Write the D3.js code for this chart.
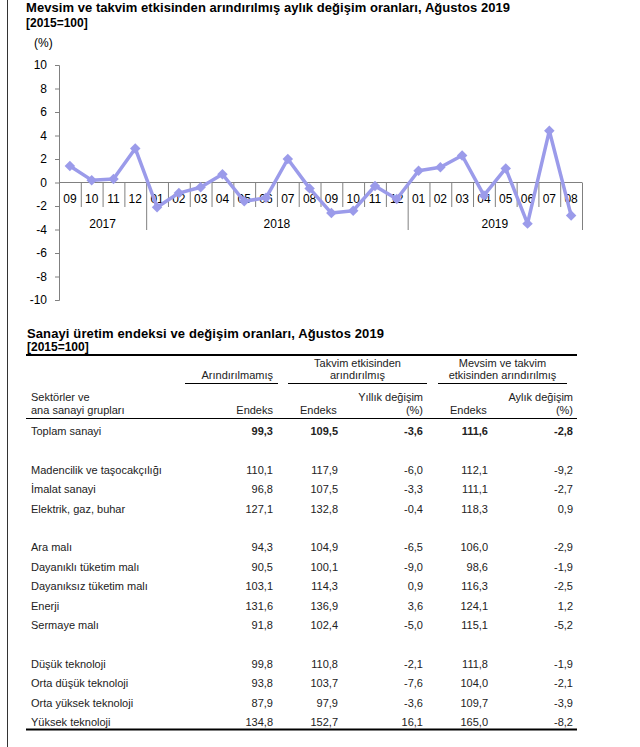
<!DOCTYPE html>
<html><head><meta charset="utf-8">
<script src="https://cdn.jsdelivr.net/npm/d3@7"></script>
<style>
html,body{margin:0;padding:0;background:#fff;}
svg{display:block;font-family:Arial,"Liberation Sans",sans-serif;}
</style></head>
<body><svg id="c" width="640" height="747"></svg>
<script>
// ---- chart data ----
const months = ["09","10","11","12","01","02","03","04","05","06","07","08","09","10","11","12","01","02","03","04","05","06","07","08"];
const years = ["2017","2017","2017","2017","2018","2018","2018","2018","2018","2018","2018","2018","2018","2018","2018","2018","2019","2019","2019","2019","2019","2019","2019","2019"];
const changes = [1.4,0.2,0.3,2.9,-2.1,-0.9,-0.4,0.7,-1.6,-1.3,2.0,-0.5,-2.6,-2.4,-0.3,-1.4,1.0,1.3,2.3,-1.1,1.2,-3.5,4.4,-2.8];
const yTicks = [10,8,6,4,2,0,-2,-4,-6,-8,-10];

// ---- table data ----
const rowLabels = ["Toplam sanayi", null, "Madencilik ve taşocakçılığı", "İmalat sanayi", "Elektrik, gaz, buhar", null,
  "Ara malı", "Dayanıklı tüketim malı", "Dayanıksız tüketim malı", "Enerji", "Sermaye malı", null,
  "Düşük teknoloji", "Orta düşük teknoloji", "Orta yüksek teknoloji", "Yüksek teknoloji"];
const rawIndex   = ["99,3", null, "110,1","96,8","127,1", null, "94,3","90,5","103,1","131,6","91,8", null, "99,8","93,8","87,9","134,8"];
const calIndex   = ["109,5", null, "117,9","107,5","132,8", null, "104,9","100,1","114,3","136,9","102,4", null, "110,8","103,7","97,9","152,7"];
const calAnnual  = ["-3,6", null, "-6,0","-3,3","-0,4", null, "-6,5","-9,0","0,9","3,6","-5,0", null, "-2,1","-7,6","-3,6","16,1"];
const saIndex    = ["111,6", null, "112,1","111,1","118,3", null, "106,0","98,6","116,3","124,1","115,1", null, "111,8","104,0","109,7","165,0"];
const saMonthly  = ["-2,8", null, "-9,2","-2,7","0,9", null, "-2,9","-1,9","-2,5","1,2","-5,2", null, "-1,9","-2,1","-3,9","-8,2"];

const svg = d3.select("#c");

// left frame line
svg.append("line").attr("x1",7.5).attr("x2",7.5).attr("y1",0).attr("y2",747).attr("stroke","#333").attr("stroke-width",1);

// titles
svg.append("text").attr("x",26).attr("y",12).attr("font-size",13).attr("font-weight","bold").attr("fill","#000")
  .attr("textLength",484).attr("lengthAdjust","spacing")
  .text("Mevsim ve takvim etkisinden arındırılmış aylık değişim oranları, Ağustos 2019");
svg.append("text").attr("x",26).attr("y",27).attr("font-size",12).attr("font-weight","bold").attr("fill","#000").text("[2015=100]");
svg.append("text").attr("x",34).attr("y",47).attr("font-size",12).attr("fill","#000").text("(%)");

// ---- chart ----
const x0 = 59, x1 = 582;
const keys = months.map((m,i)=>years[i]+"-"+m);
const x = d3.scaleBand().domain(keys).range([x0,x1]).padding(0);
const y = d3.scaleLinear().domain([-10,10]).range([300,65]);

const yAxis = d3.axisLeft(y).tickValues(yTicks).tickSize(4).tickPadding(8).tickFormat(d=>String(d));
const gy = svg.append("g").attr("transform",`translate(${x0},0)`).call(yAxis);
gy.select(".domain").attr("stroke","#808080");
gy.selectAll(".tick line").attr("stroke","#808080");
gy.selectAll(".tick text").attr("font-size",12).attr("fill","#000").attr("font-family","Arial, 'Liberation Sans', sans-serif");

// zero baseline
svg.append("line").attr("x1",x0).attr("x2",x1).attr("y1",y(0)).attr("y2",y(0)).attr("stroke","#808080");

// month separators
const g = svg.append("g");
keys.forEach((k,i)=>{
  if(i===0) return;
  const yearBoundary = years[i]!==years[i-1];
  g.append("line").attr("x1",x(k)+0.5).attr("x2",x(k)+0.5).attr("y1",y(0)).attr("y2",yearBoundary?230:207)
    .attr("stroke","#808080");
});
g.append("line").attr("x1",x1+0.5).attr("x2",x1+0.5).attr("y1",y(0)).attr("y2",230).attr("stroke","#808080");

// month labels
g.selectAll("text.m").data(keys).join("text").attr("class","m")
  .attr("x",d=>x(d)+x.bandwidth()/2).attr("y",203).attr("text-anchor","middle")
  .attr("font-size",12).attr("fill","#000").text((d,i)=>months[i]);

// year labels
const yearList = Array.from(new Set(years));
yearList.forEach(yr=>{
  const ks = keys.filter((k,i)=>years[i]===yr);
  const cx = (x(ks[0]) + x(ks[ks.length-1]) + x.bandwidth())/2;
  g.append("text").attr("x",cx).attr("y",228).attr("text-anchor","middle").attr("font-size",12).attr("fill","#000").text(yr);
});

// line series
const lineColor = "#9b9bea";
const line = d3.line().x((d,i)=>x(keys[i])+x.bandwidth()/2).y(d=>y(d));
svg.append("path").datum(changes).attr("d",line).attr("fill","none").attr("stroke",lineColor).attr("stroke-width",3.5).attr("stroke-linejoin","round");
const diamond = d3.symbol().type(d3.symbolDiamond2).size(70);
svg.append("g").selectAll("path").data(changes).join("path")
  .attr("d",diamond).attr("transform",(d,i)=>`translate(${x(keys[i])+x.bandwidth()/2},${y(d)})`)
  .attr("fill",lineColor);

// ---- table ----
const tc = "#222";
svg.append("text").attr("x",27).attr("y",338).attr("font-size",13).attr("font-weight","bold").attr("fill","#000")
  .attr("textLength",357).attr("lengthAdjust","spacing")
  .text("Sanayi üretim endeksi ve değişim oranları, Ağustos 2019");
svg.append("text").attr("x",27).attr("y",351).attr("font-size",12).attr("font-weight","bold").attr("fill","#000").text("[2015=100]");

const tL = 26, tR = 577;
svg.append("line").attr("x1",tL).attr("x2",tR).attr("y1",355).attr("y2",355).attr("stroke","#000").attr("stroke-width",2);

const colRight = [273, 338, 423, 488, 573];
const fs = 11;
function txt(xp,yp,s,anchor,bold){
  svg.append("text").attr("x",xp).attr("y",yp).attr("font-size",fs).attr("fill",tc)
    .attr("text-anchor",anchor||"start").attr("font-weight",bold?"bold":"normal").text(s);
}
// group headers
txt(273,379,"Arındırılmamış","end");
txt(357.5,367,"Takvim etkisinden","middle");
txt(357.5,379,"arındırılmış","middle");
txt(502.5,367,"Mevsim ve takvim","middle");
txt(502.5,379,"etkisinden arındırılmış","middle");
[[185,278],[288,427],[438,567]].forEach(([a,b])=>{
  svg.append("line").attr("x1",a).attr("x2",b).attr("y1",383.5).attr("y2",383.5).attr("stroke","#000");
});
// column headers
txt(31,401,"Sektörler ve");
txt(31,414,"ana sanayi grupları");
txt(colRight[0],414,"Endeks","end");
txt(300,414,"Endeks");
txt(colRight[2],401,"Yıllık değişim","end");
txt(colRight[2],414,"(%)","end");
txt(450,414,"Endeks");
txt(colRight[4],401,"Aylık değişim","end");
txt(colRight[4],414,"(%)","end");
svg.append("line").attr("x1",tL).attr("x2",tR).attr("y1",418.5).attr("y2",418.5).attr("stroke","#000");

// rows
const rowY = d3.scaleLinear().domain([0,15]).range([435,726]);
const cols = [rawIndex, calIndex, calAnnual, saIndex, saMonthly];
rowLabels.forEach((lab,i)=>{
  if(lab===null) return;
  const bold = i===0;
  txt(31,rowY(i),lab,"start",false);
  cols.forEach((c,j)=>txt(colRight[j],rowY(i),c[i],"end",bold));
});
svg.append("line").attr("x1",tL).attr("x2",tR).attr("y1",729.5).attr("y2",729.5).attr("stroke","#000").attr("stroke-width",2);
</script>
</body></html>
